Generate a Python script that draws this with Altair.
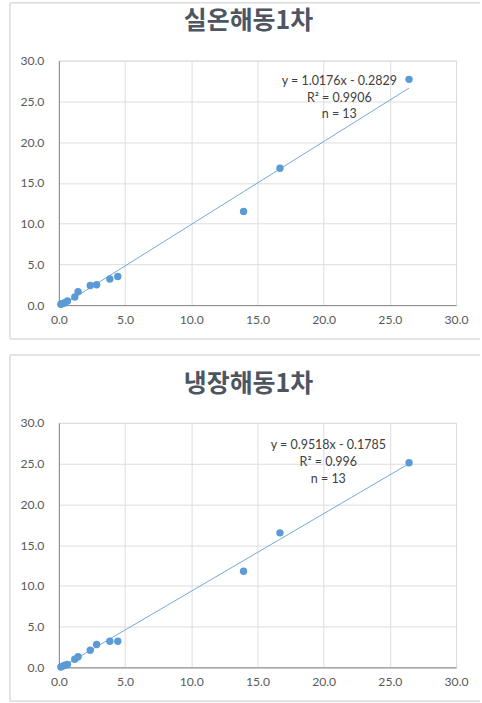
import altair as alt
import pandas as pd

# ---- data ----
titles = ["실온해동1차", "냉장해동1차"]
x_vals = [0.15, 0.3, 0.45, 0.65, 1.2, 1.45, 2.37, 2.85, 3.85, 4.45, 13.95, 16.7, 26.45]
y_room = [0.1, 0.2, 0.3, 0.5, 1.0, 1.65, 2.4, 2.5, 3.2, 3.5, 11.5, 16.8, 27.7]
y_cold = [0.05, 0.15, 0.25, 0.35, 1.0, 1.3, 2.1, 2.8, 3.2, 3.2, 11.8, 16.5, 25.1]
slopes = [1.0176, 0.9518]
intercepts = [-0.2829, -0.1785]
r2_labels = ["R² = 0.9906", "R² = 0.996"]
eq_labels = ["y = 1.0176x - 0.2829", "y = 0.9518x - 0.1785"]
n_labels = ["n = 13", "n = 13"]
ticks = [0, 5, 10, 15, 20, 25, 30]

series = [y_room, y_cold]

W, H = 398, 245
BLUE = "#5B9BD5"
LABEL = "#595959"
FRAME = "#d9dbe0"
FONT = "Lato"


def panel(i, fr_top, title_y, ann_x, ann_y, fr_bot):
    df = pd.DataFrame({"x": x_vals, "y": series[i]})
    base = alt.Chart(df)
    xs = alt.Scale(domain=[0, 30], nice=False)
    ys = alt.Scale(domain=[0, 30], nice=False)
    xax = alt.Axis(values=ticks, format=".1f", title=None, ticks=False,
                   labelPadding=8, labelFlush=False, labelFontSize=12.2,
                   labelFont=FONT, labelColor=LABEL)
    yax = alt.Axis(values=ticks, format=".1f", title=None, ticks=False,
                   labelPadding=15, labelFontSize=12.2,
                   labelFont=FONT, labelColor=LABEL)

    pts = base.mark_circle(size=55, color=BLUE, opacity=1).encode(
        x=alt.X("x:Q", scale=xs, axis=xax),
        y=alt.Y("y:Q", scale=ys, axis=yax),
    )
    fit = base.transform_calculate(
        fit=f"{slopes[i]} * datum.x + ({intercepts[i]})"
    ).mark_line(color=BLUE, strokeWidth=1, opacity=0.85).encode(
        x=alt.X("x:Q", scale=xs), y=alt.Y("fit:Q", scale=ys)
    )
    ann = alt.Chart(pd.DataFrame({"a": [0]})).mark_text(
        font=FONT, fontSize=12.5, color="#404040", lineHeight=17,
        align="center", baseline="middle"
    ).encode(
        x=alt.value(ann_x), y=alt.value(ann_y),
        text=alt.value([eq_labels[i], r2_labels[i], n_labels[i]])
    )
    ttl = alt.Chart(pd.DataFrame({"a": [0]})).mark_text(
        font="Noto Sans CJK KR", fontSize=25, fontWeight="bold",
        color="#4d5563", align="center", baseline="middle"
    ).encode(x=alt.value(190), y=alt.value(title_y), text=alt.value(titles[i]))

    left = -49
    right = 422
    one = pd.DataFrame({"a": [0]})
    frame_l = alt.Chart(one).mark_rule(color=FRAME, strokeWidth=1.5).encode(
        x=alt.value(left), y=alt.value(fr_top), y2=alt.value(fr_bot))
    frame_t = alt.Chart(one).mark_rule(color=FRAME, strokeWidth=1.5).encode(
        x=alt.value(left), x2=alt.value(right), y=alt.value(fr_top))
    frame_b = alt.Chart(one).mark_rule(color=FRAME, strokeWidth=1.5).encode(
        x=alt.value(left), x2=alt.value(right), y=alt.value(fr_bot))

    return alt.layer(frame_l, frame_t, frame_b, ttl, fit, pts, ann).properties(
        width=W, height=H
    )


top = panel(0, -58, -40, 281, 20, 279)
bottom = panel(1, -68, -39, 270, 22, 279)

chart = alt.vconcat(top, bottom, spacing=12).properties(
    padding={"left": 8, "top": 0, "right": 0, "bottom": 0}
).configure_view(stroke=None).configure_axis(
    grid=True, gridColor="#e4e7ec", gridWidth=1,
    domainColor="#c4cad3", domainWidth=1,
).configure(background="white")

chart.save("out.html", embed_options={"renderer": "svg", "actions": False})
